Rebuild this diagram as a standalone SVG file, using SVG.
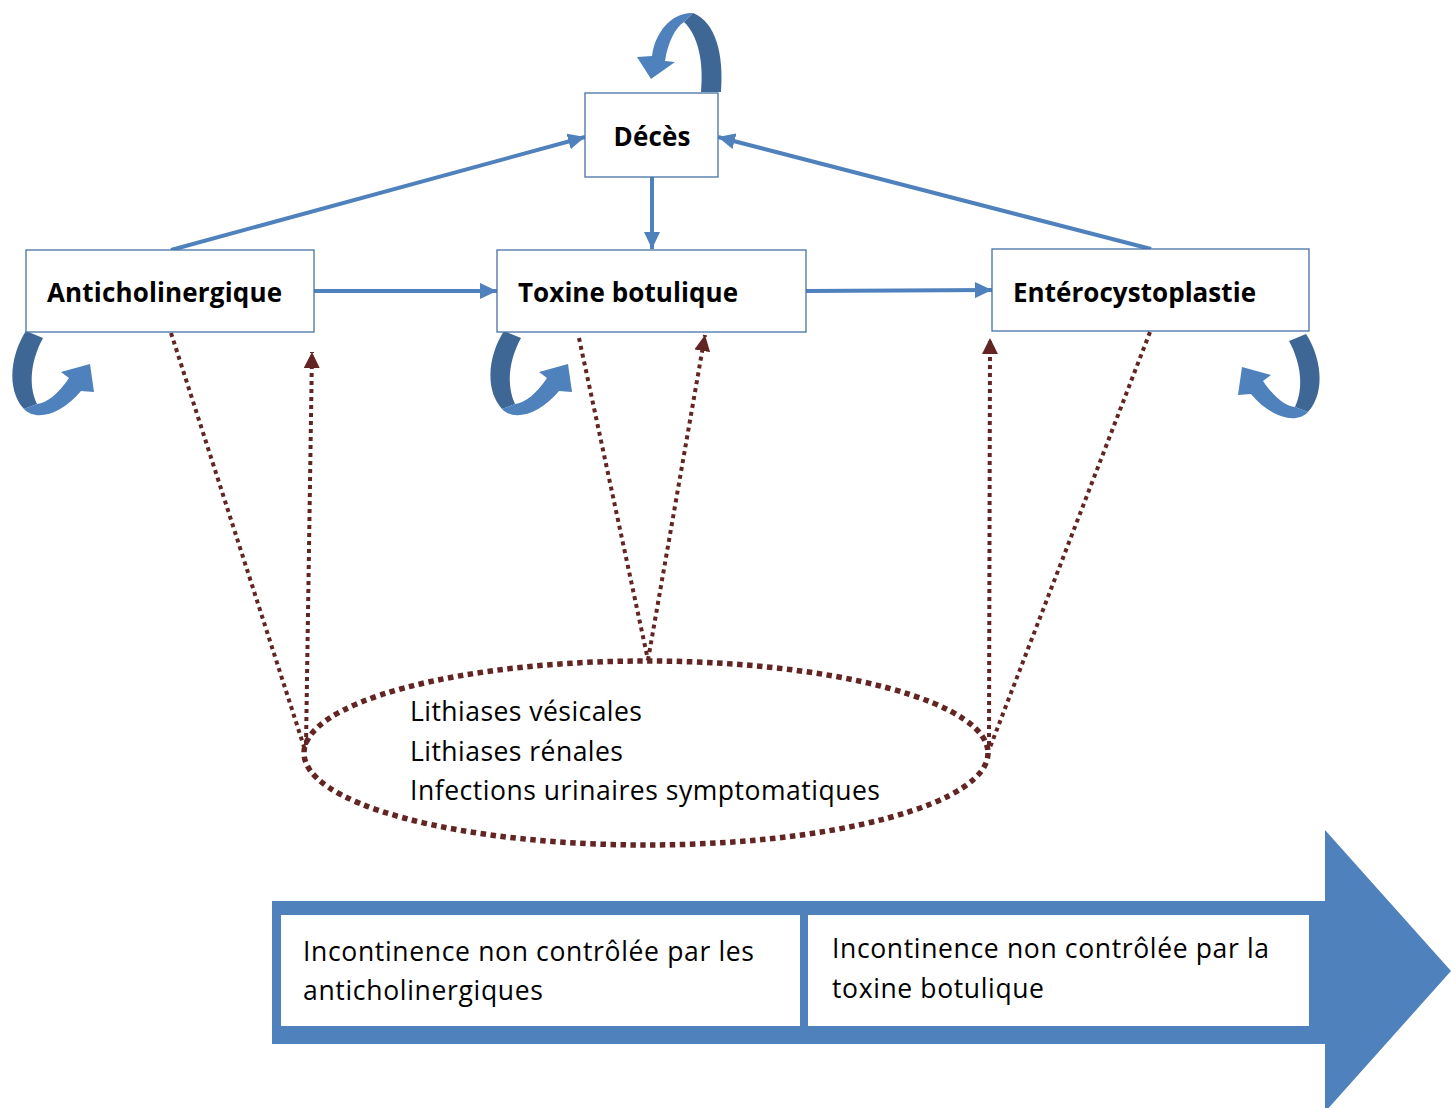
<svg xmlns="http://www.w3.org/2000/svg" width="1456" height="1108" viewBox="0 0 1456 1108">
<style>
.box{fill:#fff;stroke:#4570A6;stroke-width:1.3}
.lbl{font-family:"Open Sans","Liberation Sans",sans-serif;font-weight:bold;font-size:26px;fill:#000}
.txt{font-family:"Open Sans","Liberation Sans",sans-serif;font-size:26.5px;fill:#000}
.blue{stroke:#4F81BD;stroke-width:4;fill:none}
.dot{stroke:#632523;stroke-width:4;stroke-dasharray:4 4;fill:none}
.dk{fill:#3E6796}
.lt{fill:#4F81BD}
</style>
<defs>
<marker id="ab" markerUnits="userSpaceOnUse" markerWidth="18" markerHeight="16" refX="17" refY="8" orient="auto">
<path d="M0,0 L17,8 L0,16 z" fill="#4F81BD"/>
</marker>
<marker id="ar" markerUnits="userSpaceOnUse" markerWidth="17" markerHeight="16" refX="16" refY="8" orient="auto">
<path d="M0,0 L16,8 L0,16 z" fill="#632523"/>
</marker>
<g id="loopL">
<path class="dk" d="M26,331 C12,352 5,388 24,409 L37,404 C28,385 31,360 43,338 Z"/>
<path class="lt" d="M24,409 C36,422 62,414 81,391 L94,392 L90,364 L61,372 L69,378 C58,394 47,403 37,404 Z"/>
</g>
</defs>

<g id="connectors">
<line class="blue" x1="652" y1="177" x2="652" y2="249" marker-end="url(#ab)"/>
<line class="blue" x1="314" y1="291" x2="497" y2="291" marker-end="url(#ab)"/>
<line class="blue" x1="806" y1="291" x2="992" y2="290" marker-end="url(#ab)"/>
<line class="blue" x1="171" y1="250" x2="585" y2="137" marker-end="url(#ab)"/>
<line class="blue" x1="1151" y1="249" x2="718" y2="137" marker-end="url(#ab)"/>
<line class="dot" x1="171" y1="333" x2="305" y2="750"/>
<line class="dot" x1="306" y1="745" x2="312" y2="352" marker-end="url(#ar)"/>
<line class="dot" x1="579" y1="338" x2="648" y2="660"/>
<line class="dot" x1="648" y1="660" x2="705" y2="335" marker-end="url(#ar)"/>
<line class="dot" x1="989" y1="745" x2="990" y2="338" marker-end="url(#ar)"/>
<line class="dot" x1="1150" y1="332" x2="989" y2="750"/>
</g>

<g id="loop-deces">
<path class="lt" d="M693,13 C672,12 655,32 652,56 L637,57 L651,79 L675,62 L665,61 C668,42 675,28 684,22 Z"/>
<path class="dk" d="M684,22 C698,35 704,62 701,92 L721,92 C724,55 716,22 693,13 Z"/>
</g>
<g id="loop-anticholinergique"><use href="#loopL"/></g>
<g id="loop-toxine"><use href="#loopL" transform="translate(478,0)"/></g>
<g id="loop-entero"><use href="#loopL" transform="translate(1332,3) scale(-1,1)"/></g>

<g id="node-deces">
<rect class="box" x="585" y="93" width="133" height="84"/>
<text class="lbl" x="652" y="146" text-anchor="middle" textLength="77">Décès</text>
</g>
<g id="node-anticholinergique">
<rect class="box" x="26" y="250" width="288" height="82"/>
<text class="lbl" x="47" y="302" textLength="235">Anticholinergique</text>
</g>
<g id="node-toxine">
<rect class="box" x="497" y="250" width="309" height="82"/>
<text class="lbl" x="518" y="302" textLength="220">Toxine botulique</text>
</g>
<g id="node-entero">
<rect class="box" x="992" y="249" width="317" height="82"/>
<text class="lbl" x="1013" y="302" textLength="243">Entérocystoplastie</text>
</g>

<g id="node-complications">
<ellipse cx="646" cy="753" rx="342" ry="92" fill="none" stroke="#632523" stroke-width="5.5" stroke-dasharray="5.5 4.5"/>
<text class="txt" x="410" y="721" textLength="232">Lithiases vésicales</text>
<text class="txt" x="410" y="761" textLength="213">Lithiases rénales</text>
<text class="txt" x="410" y="800" textLength="470">Infections urinaires symptomatiques</text>
</g>

<g id="node-timeline">
<path d="M272,901 L1325,901 L1325,830 L1451,971 L1325,1112 L1325,1044 L272,1044 Z" fill="#4F81BD"/>
<rect x="281" y="915" width="519" height="111" fill="#fff"/>
<rect x="808" y="915" width="501" height="111" fill="#fff"/>
<text class="txt" x="303" y="961" textLength="451">Incontinence non contrôlée par les</text>
<text class="txt" x="303" y="1000" textLength="240">anticholinergiques</text>
<text class="txt" x="832" y="958" textLength="437">Incontinence non contrôlée par la</text>
<text class="txt" x="832" y="998" textLength="212">toxine botulique</text>
</g>
</svg>
